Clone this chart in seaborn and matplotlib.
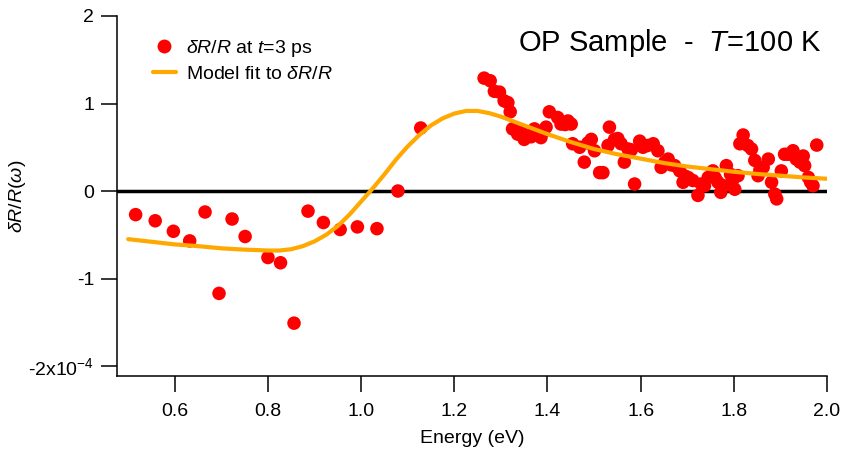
import matplotlib
matplotlib.use('Agg')
import pandas as pd
import seaborn as sns
import matplotlib.pyplot as plt
from matplotlib.lines import Line2D

# dR/R at t=3 ps (units of 1e-4)
energy = [0.516, 0.558, 0.597, 0.632, 0.665, 0.695, 0.723, 0.751, 0.800, 0.827,
          0.856, 0.886, 0.919, 0.955, 0.992, 1.034, 1.079, 1.128,
          1.264, 1.277, 1.286, 1.297, 1.307, 1.315, 1.320, 1.325, 1.336, 1.343,
          1.350, 1.358, 1.365, 1.372, 1.386, 1.390, 1.397, 1.404, 1.422, 1.429,
          1.438, 1.444, 1.451, 1.454, 1.469, 1.479, 1.487, 1.494, 1.501, 1.512,
          1.519, 1.530, 1.533, 1.544, 1.551, 1.558, 1.565, 1.573, 1.580, 1.587,
          1.598, 1.605, 1.615, 1.627, 1.637, 1.644, 1.652, 1.659, 1.665, 1.673,
          1.684, 1.691, 1.695, 1.702, 1.712, 1.723, 1.730, 1.737, 1.745, 1.755,
          1.760, 1.766, 1.772, 1.778, 1.784, 1.793, 1.797, 1.802, 1.809, 1.813,
          1.820, 1.830, 1.838, 1.845, 1.852, 1.856, 1.863, 1.874, 1.881, 1.888,
          1.892, 1.902, 1.909, 1.917, 1.927, 1.934, 1.942, 1.949, 1.952, 1.960,
          1.965, 1.970, 1.978]
dr = [-0.27, -0.34, -0.46, -0.57, -0.24, -1.17, -0.32, -0.52, -0.76, -0.82,
      -1.51, -0.23, -0.36, -0.44, -0.41, -0.43, 0.00, 0.72,
      1.29, 1.26, 1.14, 1.13, 1.03, 1.01, 0.905, 0.71, 0.65, 0.68,
      0.59, 0.63, 0.62, 0.71, 0.61, 0.67, 0.73, 0.905, 0.84, 0.765,
      0.76, 0.80, 0.765, 0.54, 0.50, 0.33, 0.55, 0.59, 0.46, 0.21,
      0.21, 0.52, 0.73, 0.59, 0.60, 0.54, 0.33, 0.48, 0.47, 0.08,
      0.57, 0.50, 0.52, 0.54, 0.46, 0.27, 0.33, 0.365, 0.30, 0.29,
      0.23, 0.10, 0.17, 0.155, 0.12, -0.05, 0.08, 0.06, 0.155, 0.23,
      0.15, 0.10, -0.015, 0.06, 0.29, 0.19, 0.12, 0.02, 0.175, 0.54,
      0.64, 0.52, 0.48, 0.35, 0.175, 0.24, 0.27, 0.365, 0.10, -0.035,
      -0.09, 0.23, 0.42, 0.42, 0.46, 0.365, 0.33, 0.40, 0.29, 0.155,
      0.10, 0.06, 0.525]

# model fit curve
fit_energy = [0.50, 0.55, 0.60, 0.65, 0.70, 0.75, 0.80, 0.825, 0.85, 0.875,
              0.90, 0.925, 0.95, 0.975, 1.00, 1.025, 1.05, 1.075, 1.10, 1.125,
              1.15, 1.175, 1.20, 1.225, 1.25, 1.275, 1.30, 1.325, 1.35, 1.375,
              1.40, 1.45, 1.50, 1.55, 1.60, 1.65, 1.70, 1.75, 1.80, 1.85,
              1.90, 1.95, 2.00]
fit_dr = [-0.55, -0.58, -0.61, -0.63, -0.655, -0.67, -0.68, -0.68, -0.665, -0.63,
          -0.575, -0.50, -0.40, -0.27, -0.12, 0.03, 0.19, 0.36, 0.51, 0.64,
          0.75, 0.83, 0.885, 0.915, 0.915, 0.89, 0.85, 0.80, 0.75, 0.70,
          0.65, 0.56, 0.48, 0.42, 0.37, 0.32, 0.28, 0.25, 0.22, 0.195,
          0.175, 0.155, 0.14]

xticks = [0.6, 0.8, 1.0, 1.2, 1.4, 1.6, 1.8, 2.0]
xtick_labels = ['0.6', '0.8', '1.0', '1.2', '1.4', '1.6', '1.8', '2.0']
yticks = [-2, -1, 0, 1, 2]
ytick_labels = ['-2x10$^{-4}$', '-1', '0', '1', '2']

pts = pd.DataFrame({'energy': energy, 'dr': dr})
fit = pd.DataFrame({'energy': fit_energy, 'dr': fit_dr})

sns.set_theme(style='ticks')
plt.rcParams['font.family'] = ['Liberation Sans', 'DejaVu Sans']
plt.rcParams['mathtext.fontset'] = 'custom'
plt.rcParams['mathtext.rm'] = 'Liberation Sans'
plt.rcParams['mathtext.it'] = 'Liberation Sans:italic'
plt.rcParams['axes.unicode_minus'] = False
plt.rcParams['text.color'] = 'black'

red = '#ff0000'
orange = '#ffa800'

fig = plt.figure(figsize=(8.48, 4.65), dpi=100)
ax = fig.add_axes([117 / 848, 1 - 376 / 465, 710 / 848, 360 / 465])

ax.axhline(0, color='black', lw=2.5, zorder=1)
sns.scatterplot(x='energy', y='dr', data=pts, color=red, s=95,
                edgecolor='none', linewidth=0, ax=ax, zorder=2, legend=False)
sns.lineplot(x='energy', y='dr', data=fit, color=orange, lw=3, ax=ax,
             zorder=3, legend=False)

ax.set_xlim(0.476, 2.0)
ax.set_ylim(-2.114, 2.0)
ax.set_xticks(xticks, xtick_labels)
ax.set_yticks(yticks, ytick_labels)
sns.despine(ax=ax)
for s in ['left', 'bottom']:
    ax.spines[s].set_linewidth(1.1)
    ax.spines[s].set_color('black')
ax.tick_params(direction='out', length=11.5, width=1.1, labelsize=14,
               color='black', labelcolor='black')
ax.tick_params(axis='x', pad=8)
ax.tick_params(axis='y', pad=5)

ax.set_xlabel('Energy (eV)', fontsize=14, color='black')
ax.xaxis.set_label_coords(0.5, -0.15)
ax.set_ylabel(r'$\delta R/R$($\omega$)', fontsize=14, color='black')
ax.yaxis.set_label_coords(-0.125, 0.5)

ax.text(0.993, 0.902, 'OP Sample  -  $T$=100 K', transform=ax.transAxes,
        ha='right', va='baseline', fontsize=21, color='black')

handles = [
    Line2D([], [], marker='o', color=red, ls='none', markersize=10, markeredgewidth=0),
    Line2D([], [], color=orange, lw=3),
]
labels = [r'$\delta R/R$ at $t$=3 ps', r'Model fit to $\delta R/R$']
ax.legend(handles, labels, loc='upper left', bbox_to_anchor=(0.05, 0.94),
          frameon=False, fontsize=14, borderpad=0, borderaxespad=0,
          handlelength=1.2, handletextpad=0.5, labelspacing=0.35,
          labelcolor='black')

fig.savefig('out.png', dpi=100)
